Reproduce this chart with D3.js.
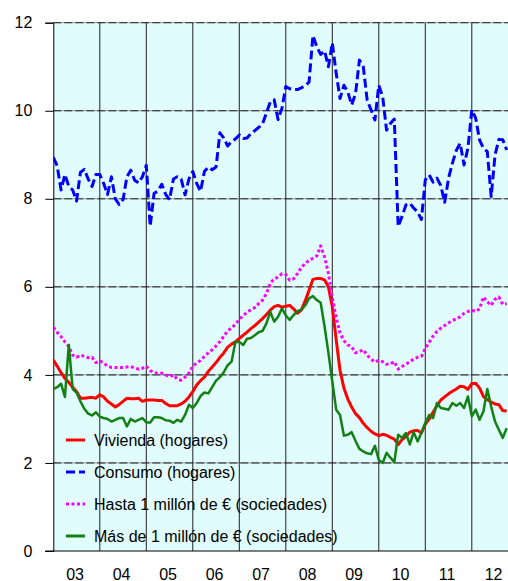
<!DOCTYPE html>
<html>
<head>
<meta charset="utf-8">
<script src="https://cdn.jsdelivr.net/npm/d3@7"></script>
<style>
body { margin: 0; background: #fff; overflow: hidden; }
svg { display: block; }
text { font-family: "Liberation Sans", Arial, sans-serif; font-size: 16px; fill: #000; }
</style>
</head>
<body>
<script>
// monthly series, Jan 2003 .. Oct 2012 (%)
var years = ['03', '04', '05', '06', '07', '08', '09', '10', '11', '12']
var firstYear = 2003
var yTicks = [0, 2, 4, 6, 8, 10, 12]

var vivienda = [
  4.34, 4.2, 4.05, 3.92, 3.83, 3.72, 3.62, 3.47, 3.47, 3.48, 3.49, 3.47,
  3.55, 3.5, 3.4, 3.34, 3.27, 3.33, 3.4, 3.47, 3.46, 3.46, 3.47, 3.4,
  3.43, 3.43, 3.43, 3.42, 3.42, 3.35, 3.3, 3.3, 3.3, 3.34, 3.4, 3.5,
  3.62, 3.77, 3.87, 3.95, 4.08, 4.18, 4.28, 4.4, 4.5, 4.63, 4.7, 4.75,
  4.83, 4.9, 4.97, 5.05, 5.12, 5.2, 5.28, 5.37, 5.47, 5.55, 5.58, 5.54,
  5.56, 5.58, 5.5, 5.4, 5.47, 5.68, 5.92, 6.17, 6.19, 6.19, 6.16, 6.0,
  5.55, 4.8, 4.1, 3.7, 3.45, 3.27, 3.12, 3.03, 2.9, 2.8, 2.72, 2.66,
  2.62, 2.65, 2.63, 2.58, 2.54, 2.42, 2.53, 2.6, 2.7, 2.73, 2.74, 2.68,
  2.88, 3.0, 3.15, 3.3, 3.43, 3.5, 3.57, 3.63, 3.68, 3.74, 3.73, 3.67,
  3.8, 3.81, 3.7, 3.51, 3.44, 3.38, 3.34, 3.32, 3.19, 3.18
]
var consumo = [
  8.94, 8.75, 8.2, 8.55, 8.28, 8.2, 7.95, 8.6, 8.67, 8.45, 8.28, 8.55,
  8.55, 8.35, 8.1, 8.5, 8.0, 7.87, 7.98, 8.5, 8.65, 8.42, 8.36, 8.5,
  8.76, 7.38, 8.12, 8.18, 8.33, 8.1, 7.98, 8.45, 8.5, 8.45, 8.09, 8.45,
  8.62, 8.35, 8.17, 8.62, 8.72, 8.66, 8.72, 9.5, 9.38, 9.2, 9.3, 9.36,
  9.45, 9.37, 9.38, 9.48, 9.55, 9.62, 9.7, 9.95, 10.2, 10.25, 9.8, 10.05,
  10.55, 10.5, 10.48, 10.48, 10.52, 10.57, 10.65, 11.71, 11.45, 11.28, 11.36, 11.0,
  11.54, 10.85, 10.28, 10.58, 10.43, 10.13, 10.39, 11.15, 11.0, 10.24, 10.02, 9.79,
  10.58, 10.32, 9.56, 9.71, 9.81, 7.37, 7.6, 7.86, 7.9, 7.79, 7.7, 7.53,
  8.43, 8.54, 8.38, 8.47, 8.3, 7.92, 8.47, 8.81, 9.1, 9.26, 8.77, 9.15,
  10.02, 9.83, 9.34, 9.15, 9.07, 8.05, 9.0, 9.35, 9.34, 9.11
]
var hasta1m = [
  5.08, 4.97, 4.87, 4.75, 4.65, 4.45, 4.4, 4.45, 4.42, 4.39, 4.4, 4.28,
  4.32, 4.27, 4.2, 4.17, 4.17, 4.17, 4.17, 4.18, 4.19, 4.16, 4.13, 4.15,
  4.2, 4.1, 4.05, 4.04, 4.04, 4.0, 3.96, 4.0, 3.9, 3.88, 3.95, 4.04,
  4.2, 4.27, 4.33, 4.42, 4.5, 4.57, 4.66, 4.76, 4.88, 5.0, 5.07, 5.15,
  5.26, 5.35, 5.42, 5.48, 5.53, 5.62, 5.7, 5.85, 6.08, 6.18, 6.22, 6.3,
  6.28, 6.15, 6.18, 6.3, 6.44, 6.53, 6.6, 6.65, 6.7, 6.93, 6.68, 6.3,
  5.75, 5.3, 4.95, 4.78, 4.68, 4.64, 4.5, 4.53, 4.57, 4.45, 4.36, 4.29,
  4.33, 4.3, 4.24, 4.25, 4.3, 4.13, 4.19, 4.24, 4.3, 4.36, 4.4, 4.42,
  4.6, 4.74, 4.88, 4.99, 5.06, 5.12, 5.18, 5.24, 5.27, 5.32, 5.4, 5.44,
  5.47, 5.44, 5.5, 5.77, 5.66, 5.58, 5.72, 5.77, 5.6, 5.62
]
var mas1m = [
  3.68, 3.72, 3.8, 3.5, 4.68, 3.68, 3.6, 3.4, 3.23, 3.12, 3.08, 3.15,
  3.05, 3.02, 3.0, 2.94, 2.98, 3.02, 3.02, 2.83, 3.0, 2.94, 2.98, 3.02,
  2.92, 2.92, 3.04, 3.04, 3.02, 2.97, 2.96, 2.91, 2.98, 2.94, 3.09, 3.32,
  3.25, 3.36, 3.52, 3.6, 3.58, 3.72, 3.87, 3.95, 4.06, 4.22, 4.3, 4.75,
  4.75, 4.68, 4.82, 4.84, 4.9, 4.97, 5.0, 5.17, 5.43, 5.21, 5.32, 5.51,
  5.35, 5.25, 5.36, 5.45, 5.48, 5.58, 5.74, 5.79, 5.7, 5.64, 5.1, 4.5,
  3.85, 3.21, 3.09, 2.62, 2.64, 2.7, 2.5, 2.32, 2.26, 2.22, 2.2, 2.39,
  2.07, 2.0, 2.23, 2.12, 2.02, 2.64, 2.57, 2.68, 2.42, 2.7, 2.49, 2.68,
  2.91, 3.09, 3.02, 3.36, 3.25, 3.23, 3.21, 3.36, 3.3, 3.36, 3.25, 3.51,
  3.06, 3.21, 2.98, 3.17, 3.68, 3.28, 2.94, 2.75, 2.57, 2.79
]

var series = [
  {name: 'Vivienda (hogares)', values: vivienda, color: '#ff0000', width: 3, dash: null},
  {name: 'Consumo (hogares)', values: consumo, color: '#0000ff', width: 3, dash: '9,4'},
  {name: 'Hasta 1 millón de € (sociedades)', values: hasta1m, color: '#ff00ff', width: 3, dash: '3,2.5'},
  {name: 'Más de 1 millón de € (sociedades)', values: mas1m, color: '#138013', width: 2.5, dash: null}
]

var width = 508
var height = 581
var plotLeft = 53.3, plotTop = 22.7, plotBottom = 551

var x = d3.scaleLinear().domain([firstYear, firstYear + years.length]).range([plotLeft, 518.3])
var y = d3.scaleLinear().domain([0, 12]).range([plotBottom, plotTop])

var svg = d3.select('body')
  .append('svg')
  .attr('width', width)
  .attr('height', height)

svg.append('rect')
  .attr('x', plotLeft).attr('y', plotTop)
  .attr('width', width - plotLeft).attr('height', plotBottom - plotTop)
  .attr('fill', '#e0fcfc')

// horizontal gridlines (grey base + dark dashes)
var grid = svg.append('g')
grid.selectAll('line.base')
  .data(yTicks.slice(1))
  .enter().append('line')
  .attr('class', 'base')
  .attr('x1', plotLeft).attr('x2', width)
  .attr('y1', function(d) { return y(d) }).attr('y2', function(d) { return y(d) })
  .attr('stroke', '#9a9a9a')
grid.selectAll('line.dash')
  .data(yTicks.slice(1))
  .enter().append('line')
  .attr('class', 'dash')
  .attr('x1', plotLeft).attr('x2', width)
  .attr('y1', function(d) { return y(d) }).attr('y2', function(d) { return y(d) })
  .attr('stroke', '#222')
  .attr('stroke-dasharray', '8,3')

// vertical year lines
var yearStarts = years.slice(1).map(function(d, i) { return firstYear + i + 1 })
grid.selectAll('line.year')
  .data(yearStarts)
  .enter().append('line')
  .attr('class', 'year')
  .attr('x1', function(d) { return x(d) }).attr('x2', function(d) { return x(d) })
  .attr('y1', plotTop).attr('y2', plotBottom)
  .attr('stroke', '#222')

// keep the strip under the axis clean
svg.append('rect')
  .attr('x', 0).attr('y', plotBottom + 0.5)
  .attr('width', width).attr('height', height - plotBottom)
  .attr('fill', '#fff')

// year labels
svg.append('g')
  .attr('transform', 'translate(-2,' + plotBottom + ')')
  .call(d3.axisBottom(x)
    .tickValues(years.map(function(d, i) { return firstYear + i + 0.5 }))
    .tickSize(0).tickPadding(18)
    .tickFormat(function(d) { return years[Math.floor(d) - firstYear] }))
  .call(function(g) {
    g.select('.domain').remove()
    g.selectAll('.tick line').remove()
    g.selectAll('text').style('font-size', '16px').attr('fill', '#000')
  })

// y axis
svg.append('g')
  .attr('transform', 'translate(' + plotLeft + ',0)')
  .call(d3.axisLeft(y).tickValues(yTicks).tickSize(8).tickPadding(13))
  .call(function(g) {
    g.select('.domain').attr('stroke', '#000')
    g.selectAll('line').attr('stroke', '#000')
    g.selectAll('text').style('font-size', '16px').attr('fill', '#000')
  })

svg.append('line')
  .attr('x1', plotLeft - 8).attr('x2', width)
  .attr('y1', plotBottom).attr('y2', plotBottom)
  .attr('stroke', '#000')

var line = d3.line()
  .x(function(d, i) { return x(firstYear + i / 12) })
  .y(function(d) { return y(d) })

svg.append('clipPath').attr('id', 'plot')
  .append('rect').attr('x', plotLeft).attr('y', plotTop).attr('width', width - plotLeft).attr('height', plotBottom - plotTop)

svg.append('g')
  .attr('clip-path', 'url(#plot)')
  .selectAll('path')
  .data(series)
  .enter().append('path')
  .attr('d', function(d) { return line(d.values) })
  .attr('fill', 'none')
  .attr('stroke', function(d) { return d.color })
  .attr('stroke-width', function(d) { return d.width })
  .attr('stroke-dasharray', function(d) { return d.dash })
  .attr('stroke-linejoin', 'round')

// legend
var legend = svg.selectAll('g.legend')
  .data(series)
  .enter().append('g')
  .attr('class', 'legend')
  .attr('transform', function(d, i) { return 'translate(66,' + (440 + i * 32) + ')' })

legend.append('line')
  .attr('x1', 0).attr('x2', 19)
  .attr('stroke', function(d) { return d.color })
  .attr('stroke-width', 3)
  .attr('stroke-dasharray', function(d) { return d.dash })

legend.append('text')
  .attr('x', 28)
  .attr('dy', '0.35em')
  .text(function(d) { return d.name })
</script>
</body>
</html>
